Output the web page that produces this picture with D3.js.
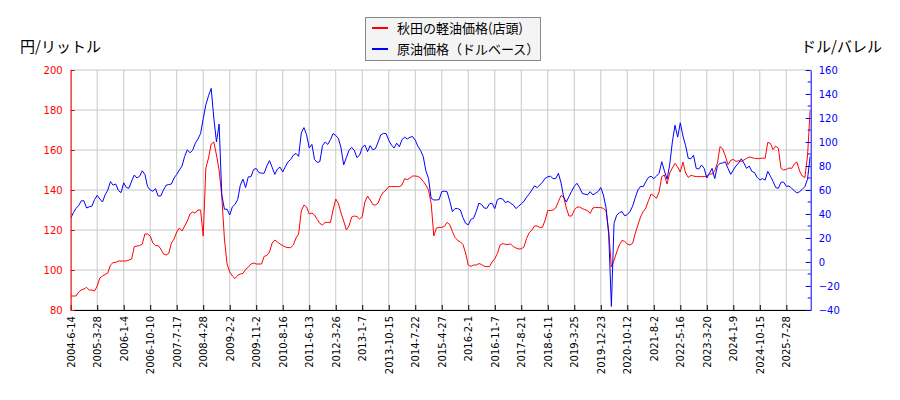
<!DOCTYPE html>
<html>
<head>
<meta charset="utf-8">
<script src="https://d3js.org/d3.v7.min.js"></script>
<style>
  body { margin: 0; background: #fff; }
  text { font-family: "DejaVu Sans", sans-serif; }
  .jp { font-family: "Noto Sans CJK JP", "Noto Sans", sans-serif; }
</style>
</head>
<body>
<div id="chart"></div>
<script>
// tick labels (one every 10 samples)
var dateLabels = ["2004-6-14","2005-3-28","2006-1-4","2006-10-10","2007-7-17","2008-4-28",
  "2009-2-2","2009-11-2","2010-8-16","2011-6-13","2012-3-26","2013-1-7","2013-10-15",
  "2014-7-22","2015-4-27","2016-2-1","2016-11-7","2017-8-21","2018-6-11","2019-3-25",
  "2019-12-23","2020-10-12","2021-8-2","2022-5-16","2023-3-20","2024-1-9","2024-10-15","2025-7-28"];

// 秋田の軽油価格(店頭)  円/リットル
var diesel = [
  87, 87, 87, 89, 90, 90.5, 91.3, 90, 90, 89.5,
  92, 96, 97, 97.8, 98.5, 102.5, 103.7, 103.8, 104.5, 104.5,
  104.5, 104.5, 105, 105.5, 111.7, 112, 112.2, 113, 118, 118,
  117, 113.5, 112.2, 112.2, 110.5, 108, 107.5, 108.3, 113.5, 115.5,
  119, 121, 119.5, 122, 124.5, 128, 129, 128.5, 130, 130,
  117, 151, 156, 163, 164, 157.5, 150, 137, 115.5, 103,
  99, 97, 95.7, 97.3, 98, 98.3, 100.3, 101.4, 103, 103.5,
  103, 103, 103, 106.8, 107.3, 109, 113.5, 115, 114, 113,
  112.2, 111.5, 111.2, 111.2, 112.5, 116, 118, 129.5, 132.5, 131.5,
  128, 128.5, 127.5, 125.3, 123.3, 122.5, 123.8, 123.8, 123.8, 130,
  135.5, 133.3, 128.5, 124.5, 120, 122, 126.5, 127, 126.7, 125.5,
  126.7, 134, 137, 135, 132.7, 132.5, 133.5, 137, 139, 140,
  141.7, 141.7, 141.7, 141.7, 141.7, 142.5, 145.7, 145.2, 146, 147,
  147, 146.8, 146, 144.3, 142.5, 140, 133.3, 117, 121, 121.3,
  121.3, 121.8, 123.8, 122.7, 119.3, 116.3, 114.8, 114.1, 112.7, 108.5,
  102.5, 101.8, 102.5, 102.5, 103.2, 102.8, 101.9, 101.7, 101.7, 104,
  105.6, 108.3, 112.5, 113.2, 112.8, 112.8, 113, 111.7, 111, 110.5,
  110.6, 111.5, 115.8, 118.6, 120, 122, 122, 121.3, 121.4, 125,
  129.8, 129.7, 130, 131, 134.2, 137.2, 136.5, 131, 127, 127,
  130, 131.4, 131.5, 130.7, 130.2, 129.7, 128.3, 131, 131.3, 131.2,
  131.2, 130.8, 129.6, 119, 101.5, 104.8, 109, 112.5, 114.8, 114.3,
  113, 112.5, 113.3, 118.3, 122.5, 126.5, 129.2, 131, 134.7, 138,
  137.2, 135.8, 139, 146.7, 147.5, 143, 148.5, 151, 153.3, 151.5,
  149, 154, 148.5, 146.3, 147.3, 147, 146.7, 146.7, 146.7, 146.7,
  146.9, 148, 148, 149.6, 153.5, 161.7, 160.5, 157, 152.7, 154.8,
  155.3, 154.3, 154.6, 154.3, 155, 155.8, 156.5, 156.2, 155.8, 155.7,
  155.7, 156, 155.8, 163.8, 163.3, 160.2, 162, 160.8, 150.8, 150,
  150.3, 151, 150.8, 153, 154, 149.5, 147, 146.2, 157, 180
];

// 原油価格（ドルベース） ドル/バレル
var crude = [
  36.4, 41, 44.7, 47, 51, 51, 45, 46, 46.5, 52,
  55.5, 52.5, 50, 56, 60, 67, 64, 65, 59.5, 57.8,
  66, 62, 61.5, 67.5, 72.5, 70, 71.5, 76, 73, 62.8,
  60, 59, 61, 55, 55, 60, 64, 64.5, 65, 70,
  73, 76.7, 80, 88, 93.5, 91, 93, 99, 102.5, 107,
  119.5, 131, 138.5, 144.7, 120, 100, 115, 56, 44, 44,
  39.2, 46, 48, 52, 64, 69, 62, 71, 71, 77,
  78, 74.5, 74, 74, 80, 84.5, 79, 73, 77.5, 79,
  75, 79.5, 83.5, 85.5, 89, 90.5, 88, 107.5, 112, 106,
  95, 98, 85.5, 83, 83.6, 97, 100, 98, 102, 107,
  105.5, 103, 95, 81, 87, 93, 95.5, 93, 87, 89,
  95.5, 97.5, 92, 97, 93.5, 94.5, 100, 106, 107.2, 107,
  101.5, 97.5, 95, 99, 96, 102, 104, 102.5, 104, 104.5,
  101.5, 96.5, 93, 88, 76, 69.7, 53, 51.7, 51.7, 52,
  58.6, 59, 58.6, 51, 42, 44.5, 44.5, 43.5, 37, 32.2,
  31, 35.5, 36.4, 42, 49, 48, 45, 44.7, 48.5, 49,
  44.5, 52, 53, 52.5, 49.5, 50.5, 49, 47.5, 44.5, 46.5,
  48.5, 50.5, 54, 56.8, 60, 63.5, 62, 64.2, 66.5, 69.7,
  71, 71.5, 69.5, 69.5, 73.9, 66, 54, 50, 54.5, 59,
  63, 65.6, 62, 57.2, 56.5, 56, 58.6, 56, 57.2, 58.8,
  62, 55.8, 45, 23, -37, 32.2, 39, 41, 42, 38.5,
  39.5, 41.9, 46.5, 53.5, 60, 63, 62.8, 67, 70.5, 71.5,
  69.5, 71.5, 74, 83.6, 76, 69, 81, 100, 114, 104,
  116, 105, 97, 86.4, 86, 89, 78, 77.5, 80.8, 78,
  70, 74, 78, 69.5, 80, 82.2, 82.5, 83.5, 78, 73,
  76.7, 80, 82.5, 86, 82.5, 78, 80, 75.5, 74.5, 70.5,
  68.3, 69.5, 68.3, 75.5, 71.5, 67.2, 62, 61.4, 66.5, 66.5,
  63, 63.3, 61.4, 59.5, 57.5, 58.6, 60.5, 62.8, 69, 88
];

var leftTicks = [80, 100, 120, 140, 160, 180, 200];
var rightTicks = [-40, -20, 0, 20, 40, 60, 80, 100, 120, 140, 160];

var width = 900, height = 400;
var pLeft = 70.7, pRight = 810.7, pTop = 70, pBottom = 310;
var perLabel = 10;

var svg = d3.select("#chart").append("svg")
    .attr("width", width)
    .attr("height", height);

var x = d3.scaleLinear().domain([0, 279.2]).range([pLeft, pRight]);
var yL = d3.scaleLinear().domain([80, 200]).range([pBottom, pTop]);
var yR = d3.scaleLinear().domain([-40, 160]).range([pBottom, pTop]);

var tickIdx = dateLabels.map(function(d, i) { return i * perLabel; });

// grid
svg.append("g").selectAll("line")
  .data(tickIdx).enter().append("line")
  .attr("x1", function(d) { return x(d); }).attr("x2", function(d) { return x(d); })
  .attr("y1", pTop).attr("y2", pBottom)
  .attr("stroke", "#c8c8c8").attr("stroke-width", 1);
svg.append("g").selectAll("line")
  .data(leftTicks).enter().append("line")
  .attr("x1", pLeft).attr("x2", pRight)
  .attr("y1", function(d) { return yL(d); }).attr("y2", function(d) { return yL(d); })
  .attr("stroke", "#c8c8c8").attr("stroke-width", 1);

// lines
svg.append("clipPath").attr("id", "plot")
  .append("rect").attr("x", pLeft).attr("y", pTop - 1)
  .attr("width", pRight - pLeft).attr("height", pBottom - pTop + 2);

var lineL = d3.line().x(function(d, i) { return x(i); }).y(function(d) { return yL(d); });
var lineR = d3.line().x(function(d, i) { return x(i); }).y(function(d) { return yR(d); });

svg.append("path").datum(diesel)
  .attr("clip-path", "url(#plot)")
  .attr("fill", "none").attr("stroke", "#ff0000").attr("stroke-width", 1)
  .attr("d", lineL);
svg.append("path").datum(crude)
  .attr("clip-path", "url(#plot)")
  .attr("fill", "none").attr("stroke", "#0000ff").attr("stroke-width", 1)
  .attr("d", lineR);

// x axis
var xAxis = d3.axisBottom(x).tickValues(tickIdx)
  .tickFormat(function(d, i) { return dateLabels[i]; })
  .tickSizeInner(-5).tickSizeOuter(0);
var gx = svg.append("g").attr("transform", "translate(0," + pBottom + ")").call(xAxis);
gx.select(".domain").attr("stroke", "#000");
gx.selectAll(".tick line").attr("stroke", "#000");
gx.selectAll(".tick text")
  .attr("font-size", 10).attr("fill", "#000")
  .attr("transform", "rotate(-90)")
  .attr("text-anchor", "end")
  .attr("x", -6).attr("y", 0).attr("dy", "0.35em");

// left axis
var gl = svg.append("g").attr("transform", "translate(" + pLeft + ",0)")
  .call(d3.axisLeft(yL).tickValues(leftTicks).tickSizeInner(-4).tickSizeOuter(0).tickPadding(8));
gl.select(".domain").attr("stroke", "#ff0000");
gl.selectAll(".tick line").attr("stroke", "#ff0000");
gl.selectAll(".tick text").attr("font-size", 10).attr("fill", "#ff0000");

// right axis with minor ticks
var minorR = d3.range(-30, 160, 20);
svg.append("g").selectAll("line")
  .data(minorR).enter().append("line")
  .attr("x1", pRight - 3).attr("x2", pRight)
  .attr("y1", function(d) { return yR(d); }).attr("y2", function(d) { return yR(d); })
  .attr("stroke", "#0000ff");
var gr = svg.append("g").attr("transform", "translate(" + pRight + ",0)")
  .call(d3.axisRight(yR).tickValues(rightTicks).tickSizeInner(-5).tickSizeOuter(0).tickPadding(8));
gr.select(".domain").attr("stroke", "#0000ff");
gr.selectAll(".tick line").attr("stroke", "#0000ff");
gr.selectAll(".tick text").attr("font-size", 10).attr("fill", "#0000ff");

// axis titles
svg.append("text").attr("class", "jp")
  .attr("x", 20).attr("y", 52).attr("font-size", 15).attr("fill", "#000")
  .text("円/リットル");
svg.append("text").attr("class", "jp")
  .attr("x", 882).attr("y", 52).attr("text-anchor", "end").attr("font-size", 15).attr("fill", "#000")
  .text("ドル/バレル");

// legend
var lg = svg.append("g");
lg.append("rect").attr("x", 365.5).attr("y", 17.5).attr("width", 175).attr("height", 43)
  .attr("fill", "#f4f4f4").attr("stroke", "#888").attr("stroke-width", 1);
var legendItems = [
  { name: "秋田の軽油価格(店頭)", color: "#ff0000" },
  { name: "原油価格（ドルベース）", color: "#0000ff" }
];
legendItems.forEach(function(d, i) {
  var yy = 28 + i * 21;
  lg.append("line").attr("x1", 372).attr("x2", 388).attr("y1", yy).attr("y2", yy)
    .attr("stroke", d.color).attr("stroke-width", 2);
  lg.append("text").attr("class", "jp").attr("x", 397).attr("y", yy).attr("dy", "0.35em")
    .attr("font-size", 13).attr("fill", "#000").text(d.name);
});
</script>
</body>
</html>
